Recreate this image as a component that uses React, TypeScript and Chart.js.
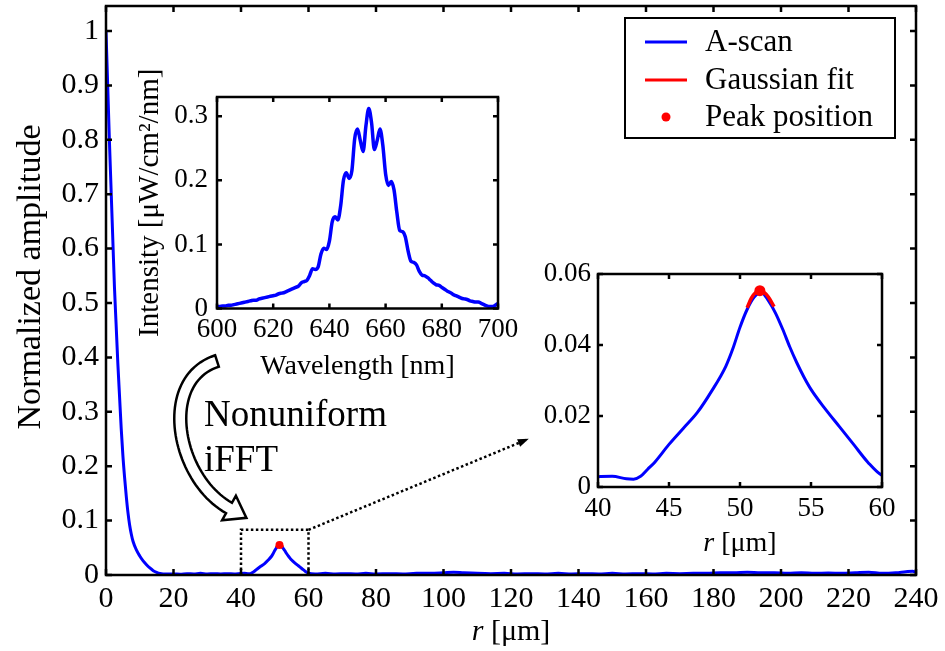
import { useEffect, useRef } from 'react';
import { Chart, registerables } from 'chart.js';

Chart.register(...registerables);

const FONT = "'Liberation Serif', 'Times New Roman', serif";

// ---------- Main A-scan ----------
const aScanR = [
  0, 0.5, 1, 1.5, 2, 2.5, 3, 3.5, 4, 4.5, 5, 5.5, 6, 6.5, 7, 7.5, 8, 9, 10, 11, 12, 13, 14, 15, 16, 18,
  20, 22, 24, 26, 28, 30, 32, 34, 36, 38,
  40, 41, 42, 42.5, 43, 43.5, 44, 45, 46, 47, 48, 49, 49.5, 50, 50.5, 51, 51.5, 52, 52.5, 53, 53.5, 54,
  54.5, 55, 56, 57, 58, 59, 60,
  62, 65, 68, 71, 74, 77, 80, 84, 88, 92, 96, 100, 103, 106, 110, 114, 118, 122, 126, 130, 134, 138,
  142, 146, 150, 154, 158, 162, 166, 170, 174, 178, 182, 186, 190, 194, 198, 202, 206, 210, 214, 218,
  222, 226, 230, 234, 237, 239, 240,
];
const aScanV = [
  1.0, 0.9, 0.8, 0.71, 0.62, 0.53, 0.46, 0.39, 0.33, 0.27, 0.22, 0.18, 0.145, 0.115, 0.092, 0.075,
  0.062, 0.046, 0.035, 0.026, 0.019, 0.013, 0.008, 0.005, 0.003, 0.002,
  0.002, 0.0015, 0.0025, 0.002, 0.003, 0.002, 0.0025, 0.002, 0.0025, 0.002,
  0.0029, 0.003, 0.0023, 0.0022, 0.003, 0.005, 0.007, 0.012, 0.0165, 0.021, 0.027, 0.034, 0.039, 0.045,
  0.05, 0.0535, 0.0548, 0.0525, 0.049, 0.0445, 0.0395, 0.035, 0.031, 0.0275, 0.022, 0.017, 0.012, 0.007,
  0.0033,
  0.002, 0.003, 0.002, 0.0025, 0.002, 0.003, 0.002, 0.0025, 0.002, 0.003, 0.003, 0.004, 0.005, 0.004,
  0.003, 0.0025, 0.003, 0.002, 0.0025, 0.002, 0.003, 0.002, 0.0025, 0.002, 0.003, 0.002, 0.0025, 0.002,
  0.003, 0.0025, 0.003, 0.003, 0.004, 0.004, 0.005, 0.004, 0.004, 0.003, 0.004, 0.003, 0.0035, 0.003,
  0.004, 0.005, 0.003, 0.004, 0.006, 0.007, 0.005,
];
const gaussR = [50.5, 50.8, 51.1, 51.4, 51.7, 52.0, 52.4];
const gaussV = [0.0505, 0.0532, 0.0548, 0.0553, 0.0548, 0.0535, 0.0508];
const peakR = [51.4];
const peakV = [0.0553];
const seriesLabels = ['A-scan', 'Gaussian fit', 'Peak position'];

const mainXTicks = [0, 20, 40, 60, 80, 100, 120, 140, 160, 180, 200, 220, 240];
const mainYTicks = [0, 0.1, 0.2, 0.3, 0.4, 0.5, 0.6, 0.7, 0.8, 0.9, 1];
const mainYLabels = ['0', '0.1', '0.2', '0.3', '0.4', '0.5', '0.6', '0.7', '0.8', '0.9', '1'];
const mainYTitle = 'Normalized amplitude';

// ---------- Spectrum inset ----------
const specWl = [
  600, 601, 602, 603, 604, 605, 606, 607, 608, 609, 610, 611, 612, 613, 614, 615, 616, 617, 618, 619,
  620, 621, 622, 623, 624, 625, 626, 627, 628, 629, 630, 631, 632, 633, 634, 635, 636, 637, 638, 639,
  640, 641, 642, 643, 644, 645, 646, 647, 648, 649, 650, 651, 652, 653, 654, 655, 656, 657, 658, 659,
  660, 661, 662, 663, 664, 665, 666, 667, 668, 669, 670, 671, 672, 673, 674, 675, 676, 677, 678, 679,
  680, 681, 682, 683, 684, 685, 686, 687, 688, 689, 690, 691, 692, 693, 694, 695, 696, 697, 698, 699,
  700,
];
const specI = [
  0.003, 0.003, 0.004, 0.004, 0.005, 0.005, 0.006, 0.007, 0.008, 0.009,
  0.010, 0.011, 0.012, 0.013, 0.013, 0.015, 0.016, 0.017, 0.018, 0.019,
  0.020, 0.021, 0.023, 0.024, 0.025, 0.027, 0.029, 0.031, 0.033, 0.035,
  0.040, 0.042, 0.044, 0.052, 0.062, 0.061, 0.065, 0.085, 0.094, 0.092,
  0.105, 0.135, 0.143, 0.138, 0.160, 0.200, 0.212, 0.203, 0.215, 0.265,
  0.280, 0.262, 0.245, 0.285, 0.312, 0.290, 0.248, 0.262, 0.280, 0.255,
  0.210, 0.192, 0.198, 0.185, 0.150, 0.122, 0.120, 0.112, 0.090, 0.074,
  0.072, 0.068, 0.058, 0.052, 0.051, 0.048, 0.044, 0.040, 0.037, 0.036,
  0.033, 0.030, 0.027, 0.025, 0.022, 0.020, 0.018, 0.016, 0.015, 0.014,
  0.012, 0.011, 0.010, 0.010, 0.008, 0.006, 0.004, 0.003, 0.003, 0.005,
  0.008,
];
const specXTicks = [600, 620, 640, 660, 680, 700];
const specYTicks = [0, 0.1, 0.2, 0.3];
const specYLabels = ['0', '0.1', '0.2', '0.3'];

// ---------- Zoom inset ----------
const zoomXTicks = [40, 45, 50, 55, 60];
const zoomYTicks = [0, 0.02, 0.04, 0.06];
const zoomYLabels = ['0', '0.02', '0.04', '0.06'];

// ---------- Annotations ----------
const zoomBoxR = [40, 60];
const zoomBoxTop = 0.083;
const annotationLines = ['Nonuniform', 'iFFT'];

const BLUE = '#0000ff';
const RED = '#ff0000';

const framePlugin = {
  id: 'frame',
  afterDatasetsDraw(chart: any, _a: any, opts: any) {
    const { ctx, chartArea: ca, scales } = chart;
    const L = opts.tick ?? 6;
    ctx.save();
    ctx.strokeStyle = '#000';
    ctx.lineWidth = opts.lw ?? 2;
    ctx.beginPath();
    for (const t of scales.x.ticks) {
      const p = scales.x.getPixelForValue(t.value);
      ctx.moveTo(p, ca.bottom);
      ctx.lineTo(p, ca.bottom - L);
      ctx.moveTo(p, ca.top);
      ctx.lineTo(p, ca.top + L);
    }
    for (const t of scales.y.ticks) {
      const p = scales.y.getPixelForValue(t.value);
      ctx.moveTo(ca.left, p);
      ctx.lineTo(ca.left + L, p);
      ctx.moveTo(ca.right, p);
      ctx.lineTo(ca.right - L, p);
    }
    ctx.stroke();
    ctx.strokeRect(ca.left, ca.top, ca.right - ca.left, ca.bottom - ca.top);
    ctx.restore();
  },
};

const xTitlePlugin = {
  id: 'xTitle',
  afterDraw(chart: any, _a: any, o: any) {
    const { ctx, chartArea: ca } = chart;
    const cx = (ca.left + ca.right) / 2;
    ctx.save();
    ctx.fillStyle = '#000';
    ctx.textBaseline = 'middle';
    ctx.textAlign = 'left';
    const fi = `italic ${o.size}px ${FONT}`;
    const fn = `${o.size}px ${FONT}`;
    ctx.font = fi;
    const w1 = o.italic ? ctx.measureText(o.italic).width : 0;
    ctx.font = fn;
    const w2 = ctx.measureText(o.text).width;
    let x = cx - (w1 + w2) / 2;
    if (o.italic) {
      ctx.font = fi;
      ctx.fillText(o.italic, x, o.y);
      x += w1;
    }
    ctx.font = fn;
    ctx.fillText(o.text, x, o.y);
    ctx.restore();
  },
};

function bez(P: number[][], t: number) {
  const u = 1 - t;
  const x = u * u * u * P[0][0] + 3 * u * u * t * P[1][0] + 3 * u * t * t * P[2][0] + t * t * t * P[3][0];
  const y = u * u * u * P[0][1] + 3 * u * u * t * P[1][1] + 3 * u * t * t * P[2][1] + t * t * t * P[3][1];
  const dx = 3 * u * u * (P[1][0] - P[0][0]) + 6 * u * t * (P[2][0] - P[1][0]) + 3 * t * t * (P[3][0] - P[2][0]);
  const dy = 3 * u * u * (P[1][1] - P[0][1]) + 6 * u * t * (P[2][1] - P[1][1]) + 3 * t * t * (P[3][1] - P[2][1]);
  const l = Math.hypot(dx, dy) || 1;
  return { x, y, tx: dx / l, ty: dy / l };
}

const decorPlugin = {
  id: 'decor',
  afterDraw(chart: any) {
    const { ctx, scales } = chart;
    const xs = scales.x;
    const ys = scales.y;
    ctx.save();

    // y-axis title
    ctx.save();
    ctx.translate(31, 277);
    ctx.rotate(-Math.PI / 2);
    ctx.font = `34px ${FONT}`;
    ctx.fillStyle = '#000';
    ctx.textAlign = 'center';
    ctx.textBaseline = 'middle';
    ctx.fillText(mainYTitle, 0, 0);
    ctx.restore();

    // dotted zoom box
    const x0 = xs.getPixelForValue(zoomBoxR[0]);
    const x1 = xs.getPixelForValue(zoomBoxR[1]);
    const yb = ys.getPixelForValue(0);
    const yt = ys.getPixelForValue(zoomBoxTop);
    ctx.strokeStyle = '#000';
    ctx.lineWidth = 2.5;
    ctx.setLineDash([2.5, 2.5]);
    ctx.beginPath();
    ctx.moveTo(x0, yb);
    ctx.lineTo(x0, yt);
    ctx.lineTo(x1, yt);
    ctx.lineTo(x1, yb);
    ctx.stroke();
    // dotted arrow
    const ax = 526;
    const ay = 440;
    ctx.beginPath();
    ctx.moveTo(x1, yt);
    ctx.lineTo(ax, ay);
    ctx.stroke();
    ctx.setLineDash([]);
    const ang = Math.atan2(ay - yt, ax - x1);
    ctx.fillStyle = '#000';
    ctx.beginPath();
    ctx.moveTo(ax + 3 * Math.cos(ang), ay + 3 * Math.sin(ang));
    ctx.lineTo(ax - 8 * Math.cos(ang) + 4 * Math.sin(ang), ay - 8 * Math.sin(ang) - 4 * Math.cos(ang));
    ctx.lineTo(ax - 8 * Math.cos(ang) - 4 * Math.sin(ang), ay - 8 * Math.sin(ang) + 4 * Math.cos(ang));
    ctx.closePath();
    ctx.fill();

    // curved hollow arrow
    const P = [[217, 361], [158, 380], [176, 478], [229, 508]];
    const N = 48;
    const w = 6;
    const L: number[][] = [];
    const R: number[][] = [];
    for (let i = 0; i <= N; i++) {
      const b = bez(P, i / N);
      L.push([b.x - b.ty * w, b.y + b.tx * w]);
      R.push([b.x + b.ty * w, b.y - b.tx * w]);
    }
    const e = bez(P, 1);
    const hw = 14;
    const hl = 20;
    ctx.beginPath();
    ctx.moveTo(L[0][0], L[0][1]);
    for (let i = 1; i <= N; i++) ctx.lineTo(L[i][0], L[i][1]);
    ctx.lineTo(e.x - e.ty * hw, e.y + e.tx * hw);
    ctx.lineTo(e.x + e.tx * hl, e.y + e.ty * hl);
    ctx.lineTo(e.x + e.ty * hw, e.y - e.tx * hw);
    for (let i = N; i >= 0; i--) ctx.lineTo(R[i][0], R[i][1]);
    ctx.closePath();
    ctx.fillStyle = '#fff';
    ctx.fill();
    ctx.lineWidth = 2.5;
    ctx.lineJoin = 'miter';
    ctx.strokeStyle = '#000';
    ctx.stroke();

    // annotation text
    ctx.fillStyle = '#000';
    ctx.font = `37px ${FONT}`;
    ctx.textAlign = 'left';
    ctx.textBaseline = 'alphabetic';
    ctx.fillText(annotationLines[0], 204, 426);
    ctx.fillText(annotationLines[1], 204, 471);

    // legend
    const lx = 625;
    const ly = 18;
    const lw = 270;
    const lh = 120;
    ctx.fillStyle = '#fff';
    ctx.fillRect(lx, ly, lw, lh);
    ctx.lineWidth = 2;
    ctx.strokeStyle = '#000';
    ctx.strokeRect(lx, ly, lw, lh);
    const rows = [42, 80, 117];
    const ds = chart.data.datasets;
    ctx.font = `31px ${FONT}`;
    ctx.textBaseline = 'middle';
    seriesLabels.forEach((lab, i) => {
      const d = ds.find((q: any) => q.label === lab);
      const yy = rows[i];
      if (d.showLine === false) {
        ctx.fillStyle = d.backgroundColor;
        ctx.beginPath();
        ctx.arc(666, yy, 4.5, 0, Math.PI * 2);
        ctx.fill();
      } else {
        ctx.strokeStyle = d.borderColor;
        ctx.lineWidth = 3;
        ctx.beginPath();
        ctx.moveTo(645, yy);
        ctx.lineTo(687, yy);
        ctx.stroke();
      }
      ctx.fillStyle = '#000';
      ctx.fillText(lab, 705, yy + 1);
    });
    ctx.restore();
  },
};

function fixedTicks(arr: number[]) {
  return (s: any) => {
    s.ticks = arr.map((v) => ({ value: v }));
  };
}

function axisBase(size: number, pad: number) {
  return {
    type: 'linear' as const,
    grid: { display: false, drawTicks: false },
    border: { display: false },
    ticks: { font: { size, family: FONT }, color: '#000', padding: pad, maxRotation: 0, autoSkip: false },
  };
}

function zeroPad(s: any) {
  s.paddingLeft = 0;
  s.paddingRight = 0;
  s.paddingTop = 0;
  s.paddingBottom = 0;
}

function lineSets(pr: number) {
  return [
    {
      label: seriesLabels[2],
      data: peakR.map((r, i) => ({ x: r, y: peakV[i] })),
      showLine: false,
      pointRadius: pr,
      pointBorderWidth: 0,
      backgroundColor: RED,
      borderColor: RED,
      order: 1,
    },
    {
      label: seriesLabels[1],
      data: gaussR.map((r, i) => ({ x: r, y: gaussV[i] })),
      borderColor: RED,
      borderWidth: 3.5,
      pointRadius: 0,
      cubicInterpolationMode: 'monotone' as const,
      order: 2,
    },
    {
      label: seriesLabels[0],
      data: aScanR.map((r, i) => ({ x: r, y: aScanV[i] })),
      borderColor: BLUE,
      borderWidth: 3,
      pointRadius: 0,
      cubicInterpolationMode: 'monotone' as const,
      order: 3,
    },
  ];
}

export default function App() {
  const mainRef = useRef<HTMLCanvasElement>(null);
  const specRef = useRef<HTMLCanvasElement>(null);
  const zoomRef = useRef<HTMLCanvasElement>(null);

  useEffect(() => {
    Chart.defaults.font.family = FONT;
    Chart.defaults.color = '#000';

    const main = new Chart(mainRef.current!, {
      type: 'line',
      data: { datasets: lineSets(4) as any },
      options: {
        responsive: false,
        animation: false,
        events: [],
        layout: { padding: { top: 6, right: 29, left: 0, bottom: 0 } },
        plugins: {
          legend: { display: false },
          tooltip: { enabled: false },
          frame: { tick: 6, lw: 2.5 },
          xTitle: { italic: 'r', text: ' [μm]', size: 30, y: 632 },
        } as any,
        scales: {
          x: {
            ...axisBase(30, 6),
            min: 0,
            max: 240,
            afterBuildTicks: fixedTicks(mainXTicks),
            afterFit: (s: any) => {
              s.height = 76;
              zeroPad(s);
            },
          },
          y: {
            ...axisBase(30, 7),
            min: 0,
            max: 1.046,
            afterBuildTicks: fixedTicks(mainYTicks),
            afterFit: (s: any) => {
              s.width = 106;
              zeroPad(s);
            },
            ticks: {
              ...axisBase(30, 7).ticks,
              callback: (_v: any, i: number) => mainYLabels[i],
            },
          },
        } as any,
      },
      plugins: [framePlugin, xTitlePlugin, decorPlugin],
    });

    const spec = new Chart(specRef.current!, {
      type: 'line',
      data: {
        datasets: [
          {
            label: 'Spectrum',
            data: specWl.map((w, i) => ({ x: w, y: specI[i] })),
            borderColor: BLUE,
            borderWidth: 3.5,
            pointRadius: 0,
            cubicInterpolationMode: 'monotone',
          },
        ],
      },
      options: {
        responsive: false,
        animation: false,
        events: [],
        layout: { padding: { top: 42, right: 22, left: 0, bottom: 0 } },
        plugins: {
          legend: { display: false },
          tooltip: { enabled: false },
          frame: { tick: 5, lw: 2.5 },
          xTitle: { italic: '', text: 'Wavelength [nm]', size: 28, y: 312 },
        } as any,
        scales: {
          x: {
            ...axisBase(27, 5),
            min: 600,
            max: 700,
            afterBuildTicks: fixedTicks(specXTicks),
            afterFit: (s: any) => {
              s.height = 81.5;
              zeroPad(s);
            },
          },
          y: {
            ...axisBase(27, 9),
            min: 0,
            max: 0.33,
            afterBuildTicks: fixedTicks(specYTicks),
            afterFit: (s: any) => {
              s.width = 97;
              zeroPad(s);
            },
            ticks: {
              ...axisBase(27, 9).ticks,
              callback: (_v: any, i: number) => specYLabels[i],
            },
            title: {
              display: true,
              text: 'Intensity [μW/cm²/nm]',
              font: { size: 29, family: FONT },
              color: '#000',
              padding: { top: 13, bottom: 0 },
            },
          },
        } as any,
      },
      plugins: [framePlugin, xTitlePlugin],
    });

    const zoom = new Chart(zoomRef.current!, {
      type: 'line',
      data: { datasets: lineSets(5.5) as any },
      options: {
        responsive: false,
        animation: false,
        events: [],
        layout: { padding: { top: 19, right: 38, left: 0, bottom: 0 } },
        plugins: {
          legend: { display: false },
          tooltip: { enabled: false },
          frame: { tick: 5, lw: 2.5 },
          xTitle: { italic: 'r', text: ' [μm]', size: 28, y: 289 },
        } as any,
        scales: {
          x: {
            ...axisBase(27, 6),
            min: 40,
            max: 60,
            afterBuildTicks: fixedTicks(zoomXTicks),
            afterFit: (s: any) => {
              s.height = 73;
              zeroPad(s);
            },
          },
          y: {
            ...axisBase(27, 7),
            min: 0,
            max: 0.06,
            afterBuildTicks: fixedTicks(zoomYTicks),
            afterFit: (s: any) => {
              s.width = 78;
              zeroPad(s);
            },
            ticks: {
              ...axisBase(27, 7).ticks,
              callback: (_v: any, i: number) => zoomYLabels[i],
            },
          },
        } as any,
      },
      plugins: [framePlugin, xTitlePlugin],
    });

    return () => {
      main.destroy();
      spec.destroy();
      zoom.destroy();
    };
  }, []);

  return (
    <div style={{ position: 'absolute', left: 0, top: 0, width: 945, height: 651, background: '#fff' }}>
      <canvas ref={mainRef} width={945} height={651} style={{ position: 'absolute', left: 0, top: 0, width: 945, height: 651 }} />
      <canvas ref={specRef} width={400} height={335} style={{ position: 'absolute', left: 120, top: 55, width: 400, height: 335 }} />
      <canvas ref={zoomRef} width={400} height={305} style={{ position: 'absolute', left: 520, top: 255, width: 400, height: 305 }} />
    </div>
  );
}
